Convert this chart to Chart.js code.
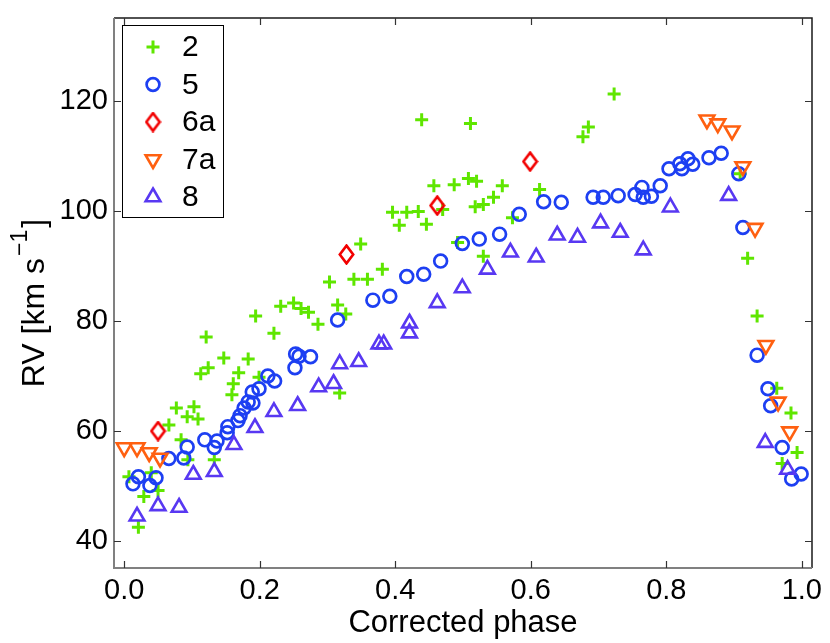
<!DOCTYPE html>
<html>
<head>
<meta charset="utf-8">
<script src="https://cdn.jsdelivr.net/npm/chart.js@4.4.1/dist/chart.umd.min.js"></script>
<style>
  html, body { margin: 0; padding: 0; background: #fff; }
  #wrap { width: 830px; height: 643px; }
</style>
</head>
<body>
<div id="wrap"><canvas id="rvChart" width="830" height="643"></canvas></div>
<script>
// --- Daten: Phase und Radialgeschwindigkeit je Messreihe ---
const phase2 = [0.007, 0.040, 0.021, 0.029, 0.050, 0.066, 0.077, 0.084, 0.093, 0.094, 0.103, 0.109, 0.113, 0.124, 0.121, 0.133, 0.147, 0.159, 0.161, 0.169, 0.183, 0.199, 0.194, 0.221, 0.231, 0.250, 0.261, 0.272, 0.286, 0.303, 0.315, 0.327, 0.318, 0.339, 0.349, 0.359, 0.381, 0.396, 0.406, 0.417, 0.434, 0.439, 0.446, 0.457, 0.470, 0.487, 0.492, 0.508, 0.511, 0.518, 0.520, 0.530, 0.530, 0.545, 0.558, 0.573, 0.613, 0.677, 0.685, 0.723, 0.909, 0.920, 0.934, 0.963, 0.984, 0.971, 0.993];
const rv2 = [51.6, 52.3, 42.4, 48.0, 49.1, 61.0, 64.1, 58.3, 62.5, 54.7, 64.3, 62.1, 70.3, 71.4, 77.0, 54.7, 73.2, 66.5, 68.5, 70.5, 73.0, 69.7, 80.8, 77.7, 82.6, 83.2, 82.2, 81.5, 79.3, 87.0, 82.8, 81.2, 66.8, 87.5, 93.9, 87.5, 89.3, 99.7, 97.3, 99.7, 99.8, 116.5, 97.5, 104.5, 100.2, 104.7, 94.2, 105.8, 115.8, 100.7, 105.3, 101.1, 91.7, 102.4, 104.5, 98.7, 103.8, 113.4, 115.2, 121.2, 106.7, 91.3, 80.8, 67.7, 63.2, 54.0, 56.0];

const phase5 = [0.013, 0.021, 0.038, 0.047, 0.066, 0.088, 0.093, 0.119, 0.133, 0.137, 0.152, 0.153, 0.168, 0.171, 0.177, 0.183, 0.190, 0.189, 0.199, 0.212, 0.222, 0.252, 0.253, 0.258, 0.275, 0.315, 0.367, 0.392, 0.417, 0.442, 0.467, 0.499, 0.524, 0.554, 0.583, 0.619, 0.645, 0.692, 0.707, 0.729, 0.754, 0.764, 0.766, 0.778, 0.791, 0.804, 0.820, 0.823, 0.832, 0.839, 0.863, 0.881, 0.907, 0.913, 0.934, 0.950, 0.954, 0.971, 0.985, 0.999];
const rv5 = [50.3, 51.6, 50.0, 51.4, 54.9, 55.0, 57.0, 58.3, 56.9, 58.1, 59.6, 60.7, 61.8, 62.7, 64.1, 65.2, 65.0, 67.0, 67.6, 69.9, 69.0, 71.4, 73.9, 73.5, 73.4, 80.1, 83.7, 84.4, 88.0, 88.4, 90.8, 94.0, 94.8, 95.7, 99.3, 101.6, 101.5, 102.4, 102.4, 102.7, 102.9, 104.2, 102.4, 102.6, 104.5, 107.6, 108.5, 107.6, 109.4, 108.4, 109.6, 110.4, 106.7, 96.9, 73.7, 67.6, 64.5, 56.9, 51.2, 52.1];

const phase6a = [0.050, 0.328, 0.462, 0.599];
const rv6a = [59.9, 92.0, 100.9, 108.9];

const phase7a = [0.000, 0.019, 0.037, 0.053, 0.860, 0.876, 0.897, 0.913, 0.931, 0.947, 0.965, 0.982];
const rv7a = [56.9, 56.9, 56.0, 55.0, 116.5, 115.8, 114.5, 108.0, 96.8, 75.5, 65.2, 59.8];

const phase8 = [0.019, 0.050, 0.081, 0.102, 0.133, 0.162, 0.193, 0.221, 0.256, 0.287, 0.309, 0.318, 0.346, 0.376, 0.383, 0.421, 0.421, 0.462, 0.499, 0.536, 0.570, 0.608, 0.639, 0.669, 0.703, 0.732, 0.766, 0.806, 0.892, 0.946, 0.979];
const rv8 = [44.4, 46.3, 46.0, 52.0, 52.5, 57.4, 60.5, 63.4, 64.5, 67.9, 68.5, 72.1, 72.5, 75.7, 75.7, 79.5, 77.7, 83.2, 85.9, 89.3, 92.4, 91.5, 95.5, 95.1, 97.7, 96.0, 92.8, 100.6, 102.7, 57.8, 52.9];

const xTicks = [0.0, 0.2, 0.4, 0.6, 0.8, 1.0];
const yTicks = [40, 60, 80, 100, 120];

const FONT = '"Liberation Sans", Arial, Helvetica, sans-serif';

// Raute wie im Matlab-Plot (schmaler als hoch)
function makeDiamond(color) {
    const c = document.createElement('canvas');
    c.width = 17; c.height = 21;
    const g = c.getContext('2d');
    g.strokeStyle = color;
    g.lineWidth = 2.6;
    g.lineJoin = 'miter';
    g.beginPath();
    g.moveTo(8.5, 1.6); g.lineTo(15.2, 10.5); g.lineTo(8.5, 19.4); g.lineTo(1.8, 10.5);
    g.closePath();
    g.stroke();
    return c;
}

const toPoints = (xs, ys) => xs.map((x, i) => ({ x: x, y: ys[i] }));

const datasets = [
    { label: '2', data: toPoints(phase2, rv2), pointStyle: 'cross', pointRadius: 6.5, pointBorderWidth: 3,
      borderColor: '#5fe600', backgroundColor: 'rgba(0,0,0,0)', order: 5 },
    { label: '5', data: toPoints(phase5, rv5), pointStyle: 'circle', pointRadius: 6.4, pointBorderWidth: 2.7,
      borderColor: '#1d3ff2', backgroundColor: 'rgba(0,0,0,0)', order: 4 },
    { label: '6a', data: toPoints(phase6a, rv6a), pointStyle: makeDiamond('#f20000'), pointRadius: 8,
      borderColor: '#f20000', backgroundColor: 'rgba(0,0,0,0)', order: 3 },
    { label: '7a', data: toPoints(phase7a, rv7a), pointStyle: 'triangle', rotation: 180, pointRadius: 8.5, pointBorderWidth: 2.6,
      borderColor: '#ff6010', backgroundColor: 'rgba(0,0,0,0)', order: 2 },
    { label: '8', data: toPoints(phase8, rv8), pointStyle: 'triangle', pointRadius: 8.5, pointBorderWidth: 2.6,
      borderColor: '#5838f2', backgroundColor: 'rgba(0,0,0,0)', order: 1 }
];
datasets.forEach(d => { d.showLine = false; d.clip = false; d.pointHoverRadius = d.pointRadius; });

// Markierung für die Legende zeichnen
function drawMarker(ctx, d, x, y) {
    ctx.save();
    ctx.strokeStyle = d.borderColor;
    ctx.lineWidth = d.pointBorderWidth || 2.6;
    const r = d.pointRadius;
    ctx.beginPath();
    if (d.pointStyle === 'cross') {
        ctx.moveTo(x - r, y); ctx.lineTo(x + r, y);
        ctx.moveTo(x, y - r); ctx.lineTo(x, y + r);
    } else if (d.pointStyle === 'circle') {
        ctx.arc(x, y, r, 0, Math.PI * 2);
    } else if (d.pointStyle === 'triangle') {
        const s = d.rotation === 180 ? -1 : 1;
        ctx.moveTo(x, y - s * r);
        ctx.lineTo(x + r * Math.sin(2 * Math.PI / 3), y + s * r / 2);
        ctx.lineTo(x - r * Math.sin(2 * Math.PI / 3), y + s * r / 2);
        ctx.closePath();
    } else {
        const img = d.pointStyle;
        ctx.drawImage(img, x - img.width / 2, y - img.height / 2);
    }
    ctx.stroke();
    ctx.restore();
}

// Rahmen mit nach innen zeigenden Ticks
const framePlugin = {
    id: 'frame',
    afterDatasetsDraw(chart) {
        const { ctx, chartArea: a, scales } = chart;
        ctx.save();
        ctx.lineWidth = 1.5;
        ctx.strokeStyle = '#1a1a1a';
        ctx.beginPath();
        ctx.moveTo(a.left, a.top); ctx.lineTo(a.right, a.top); ctx.lineTo(a.right, a.bottom);
        ctx.stroke();
        ctx.lineWidth = 2;
        ctx.strokeStyle = '#808080';
        ctx.beginPath();
        ctx.moveTo(a.left, a.top); ctx.lineTo(a.left, a.bottom); ctx.lineTo(a.right, a.bottom);
        ctx.stroke();
        ctx.lineWidth = 1.2;
        ctx.strokeStyle = '#333';
        ctx.beginPath();
        xTicks.forEach(v => {
            const px = Math.round(scales.x.getPixelForValue(v)) + 0.5;
            ctx.moveTo(px, a.bottom); ctx.lineTo(px, a.bottom - 7);
            ctx.moveTo(px, a.top); ctx.lineTo(px, a.top + 7);
        });
        yTicks.forEach(v => {
            const py = Math.round(scales.y.getPixelForValue(v)) + 0.5;
            ctx.moveTo(a.left, py); ctx.lineTo(a.left + 7, py);
            ctx.moveTo(a.right, py); ctx.lineTo(a.right - 7, py);
        });
        ctx.stroke();
        ctx.restore();
    }
};

// Legende im Kasten, Achsentitel
const labelPlugin = {
    id: 'labels',
    afterDraw(chart) {
        const { ctx, chartArea: a } = chart;
        ctx.save();
        const x0 = a.left + 8, y0 = a.top + 7, w = 101, h = 192;
        ctx.fillStyle = '#fff';
        ctx.fillRect(x0, y0, w, h);
        ctx.strokeStyle = '#000';
        ctx.lineWidth = 1;
        ctx.strokeRect(x0 + 0.5, y0 + 0.5, w, h);
        ctx.font = '30px ' + FONT;
        ctx.fillStyle = '#000';
        ctx.textBaseline = 'middle';
        chart.data.datasets.forEach((d, i) => {
            const cy = y0 + 22 + i * 37.5;
            drawMarker(ctx, d, x0 + 31, cy);
            ctx.fillText(d.label, x0 + 60, cy + 1);
        });

        // x-Achsentitel
        ctx.textAlign = 'center';
        ctx.textBaseline = 'alphabetic';
        ctx.font = '31px ' + FONT;
        ctx.fillText('Corrected phase', (a.left + a.right) / 2, 632);

        // y-Achsentitel mit Hochstellung
        ctx.translate(44, 303);
        ctx.rotate(-Math.PI / 2);
        ctx.textAlign = 'left';
        const p1 = 'RV [km s', sup = '\u22121', p3 = ']';
        ctx.font = '32px ' + FONT;
        const w1 = ctx.measureText(p1).width, w3 = ctx.measureText(p3).width;
        ctx.font = '23px ' + FONT;
        const ws = ctx.measureText(sup).width;
        let tx = -(w1 + ws + w3 + 4) / 2;
        ctx.font = '32px ' + FONT;
        ctx.fillText(p1, tx, 0);
        tx += w1 + 2;
        ctx.font = '23px ' + FONT;
        ctx.fillText(sup, tx, -17);
        tx += ws + 2;
        ctx.font = '32px ' + FONT;
        ctx.fillText(p3, tx, 0);
        ctx.restore();
    }
};

Chart.defaults.font.family = FONT;
Chart.defaults.color = '#000';

const ctx = document.getElementById('rvChart').getContext('2d');
const rvChart = new Chart(ctx, {
    type: 'scatter',
    data: { datasets: datasets },
    options: {
        responsive: false,
        animation: false,
        devicePixelRatio: 1,
        layout: { padding: { top: 18, right: 18, left: 0, bottom: 0 } },
        plugins: { legend: { display: false }, tooltip: { enabled: false } },
        scales: {
            x: {
                type: 'linear', min: -0.015, max: 1.015,
                afterBuildTicks: s => { s.ticks = xTicks.map(v => ({ value: v })); },
                afterFit: s => { s.height = 75; s.paddingLeft = 0; s.paddingRight = 0; },
                ticks: { callback: v => v.toFixed(1), font: { size: 29 }, color: '#000', padding: 6, maxRotation: 0, autoSkip: false },
                grid: { display: false, tickLength: 0 },
                border: { display: false }
            },
            y: {
                type: 'linear', min: 35, max: 135,
                afterBuildTicks: s => { s.ticks = yTicks.map(v => ({ value: v })); },
                afterFit: s => { s.width = 114; s.paddingTop = 0; s.paddingBottom = 0; },
                ticks: { font: { size: 29 }, color: '#000', padding: 6, autoSkip: false },
                grid: { display: false, tickLength: 0 },
                border: { display: false }
            }
        }
    },
    plugins: [framePlugin, labelPlugin]
});
</script>
</body>
</html>
